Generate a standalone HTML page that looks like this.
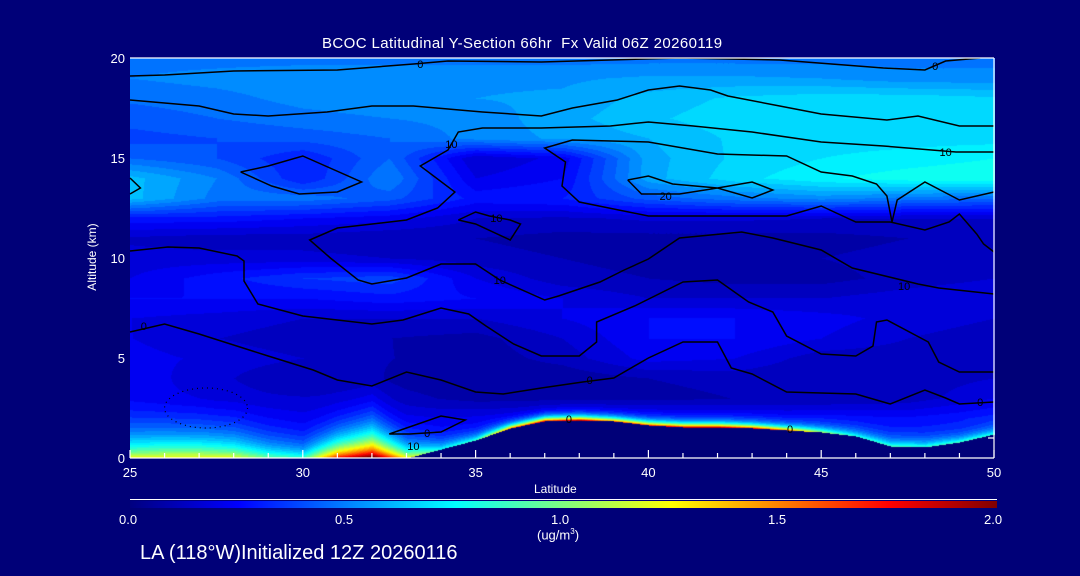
<!DOCTYPE html>
<html><head><meta charset="utf-8">
<style>
html,body{margin:0;padding:0;background:#000078;}
#wrap{position:relative;width:1080px;height:576px;background:#000078;overflow:hidden;font-family:"Liberation Sans",sans-serif;color:#fff;}
.t{position:absolute;white-space:nowrap;color:#fff;}
</style></head>
<body>
<div id="wrap">
<div class="t" style="left:322px;top:35px;font-size:15px;letter-spacing:0.4px;">BCOC Latitudinal Y-Section 66hr&nbsp; Fx Valid 06Z 20260119</div>
<canvas id="field" width="865" height="400" style="position:absolute;left:130px;top:58px;"></canvas>
<svg id="ov" width="1080" height="576" style="position:absolute;left:0;top:0;"></svg>
<div class="t" style="left:52px;top:250px;font-size:12px;transform:rotate(-90deg);transform-origin:center;width:80px;text-align:center;">Altitude (km)</div>
<div class="t" style="left:534px;top:482px;font-size:12px;">Latitude</div>
<div style="position:absolute;left:130px;top:499px;width:867px;height:1px;background:#fff;"></div>
<div style="position:absolute;left:130px;top:501px;width:867px;height:7px;background:linear-gradient(to right,#000080 0%,#0000ff 12.5%,#00ffff 37.5%,#ffff00 62.5%,#ff0000 87.5%,#800000 100%);"></div>
<div class="t" style="left:119px;top:512px;font-size:13px;">0.0</div>
<div class="t" style="left:335px;top:512px;font-size:13px;">0.5</div>
<div class="t" style="left:551px;top:512px;font-size:13px;">1.0</div>
<div class="t" style="left:768px;top:512px;font-size:13px;">1.5</div>
<div class="t" style="left:984px;top:512px;font-size:13px;">2.0</div>
<div class="t" style="left:537px;top:527px;font-size:13px;">(ug/m<sup style="font-size:8px;">3</sup>)</div>
<div class="t" style="left:140px;top:542px;font-size:20px;">LA (118°W)Initialized 12Z 20260116</div>
</div>
<script>
// ---- data ----
const lats = [25,27.5,30,32.5,35,37.5,40,42.5,45,47.5,50];
const alts = [0,1,2,3,4,5,6,7,8,9,10,11,12,13,14,15,16,17,18,19,20];
const bg = [
 [0.30,0.30,0.28,0.28,0.28,0.28,0.30,0.30,0.30,0.30,0.32],
 [0.30,0.28,0.25,0.25,0.25,0.28,0.28,0.28,0.28,0.28,0.30],
 [0.25,0.22,0.20,0.18,0.20,0.22,0.25,0.25,0.25,0.25,0.30],
 [0.20,0.15,0.15,0.12,0.08,0.08,0.08,0.10,0.10,0.12,0.20],
 [0.22,0.15,0.10,0.08,0.06,0.06,0.10,0.12,0.10,0.12,0.15],
 [0.22,0.18,0.15,0.10,0.07,0.12,0.22,0.20,0.12,0.12,0.12],
 [0.20,0.15,0.12,0.10,0.08,0.15,0.25,0.25,0.20,0.15,0.12],
 [0.20,0.18,0.15,0.15,0.15,0.20,0.25,0.25,0.22,0.18,0.15],
 [0.25,0.25,0.25,0.28,0.25,0.20,0.15,0.15,0.15,0.18,0.20],
 [0.20,0.28,0.35,0.38,0.20,0.12,0.10,0.08,0.08,0.12,0.15],
 [0.17,0.17,0.17,0.15,0.12,0.10,0.08,0.08,0.10,0.12,0.12],
 [0.14,0.12,0.12,0.10,0.10,0.08,0.08,0.08,0.08,0.10,0.12],
 [0.28,0.28,0.25,0.22,0.15,0.14,0.16,0.16,0.15,0.15,0.15],
 [0.62,0.48,0.48,0.42,0.28,0.30,0.42,0.48,0.52,0.48,0.45],
 [0.62,0.50,0.30,0.50,0.20,0.25,0.58,0.68,0.74,0.78,0.80],
 [0.45,0.40,0.30,0.45,0.15,0.22,0.58,0.66,0.70,0.72,0.75],
 [0.38,0.40,0.42,0.45,0.52,0.56,0.60,0.66,0.68,0.68,0.68],
 [0.42,0.45,0.48,0.50,0.52,0.58,0.64,0.68,0.70,0.70,0.70],
 [0.46,0.48,0.52,0.54,0.55,0.56,0.62,0.66,0.68,0.68,0.66],
 [0.50,0.52,0.54,0.54,0.54,0.54,0.56,0.56,0.55,0.52,0.52],
 [0.48,0.48,0.48,0.48,0.48,0.48,0.48,0.48,0.48,0.48,0.48]
];
const surfLats = [25,26,27,28,29,30,31,32,33,34,35,36,37,38,39,40,41,42,43,44,45,46,47,48,49,50];
const terrain = [0,0,0,0,0,0,0,0,0,0.45,0.9,1.5,1.85,1.9,1.85,1.65,1.55,1.55,1.5,1.4,1.3,1.1,0.6,0.55,0.8,1.2];
const surfConc = [1.25,1.3,1.3,1.25,1.0,0.9,1.8,2.2,1.3,0.8,0.9,1.6,1.9,1.9,1.6,1.7,1.9,1.9,1.8,1.6,1.1,0.85,0.9,0.9,0.9,0.85];
const layerDepth = [0.9,0.9,0.9,0.85,0.7,0.6,0.8,1.0,0.6,0.4,0.3,0.2,0.2,0.2,0.2,0.2,0.2,0.2,0.2,0.2,0.25,0.3,0.35,0.35,0.3,0.3];

const contourA = [[25,19.1],[26,19.15],[28,19.35],[31,19.4],[33.2,19.7],[34.2,19.85],[36.9,19.8],[40.9,20],[43.8,19.9],[46.8,19.5],[48,19.4],[48.6,19.85],[49.6,20]];
const contourB = [[25,17.9],[27,17.6],[28,17.2],[29,17.1],[30.7,17.3],[32,17.6],[33.2,17.6],[35.2,17.3],[36.9,17.1],[37.8,17.5],[39.1,17.9],[40,18.4],[40.9,18.6],[41.8,18.4],[42.3,18.1],[43.8,17.6],[45,17.2],[46.9,16.9],[47.8,17.1],[49,16.6],[50,16.6]];
const contourC = [[50,15.3],[49.5,15.3],[48.9,15.3],[46.8,15.6],[45,15.8],[43,16.3],[41.3,16.6],[40,16.8],[38.9,16.6],[36.9,16.5],[35.2,16.5],[34.5,16.3],[34.2,15.4],[33.4,14.6],[34.4,13.3],[33.9,12.5],[33,11.9],[31,11.5],[30.2,10.9],[30.8,10],[31.6,8.9],[32,8.7],[33,9],[34,9.7],[35,9.7],[35.7,8.9],[37,7.9],[37.4,8.1],[38.6,8.8],[39.3,9.4],[40,9.95],[40.9,11],[42.7,11.3],[43.6,11],[45,10.4],[45.9,9.5],[47.8,8.7],[48.4,8.5],[50,8.2]];
const contourD = [[25,10.35],[26.1,10.55],[27,10.5],[28.1,10.1],[28.3,9.85],[28.3,8.85],[28.7,7.7],[30,7.1],[32,6.7],[32.9,6.9],[34,7.5],[34.8,7.2],[35.3,6.6],[36.1,5.7],[36.9,5.1],[38,5.1],[38.5,5.8],[38.5,6.8],[39.6,7.6],[41,8.8],[42,8.9],[42.9,7.8],[43.6,7.3],[44,6.1],[45,5.2],[46,5.1],[46.5,5.6],[46.6,6.8],[46.9,6.9],[48.1,5.8],[48.4,4.8],[49,4.3],[50,4.3]];
const contourE = [[25,6.3],[26,6.7],[27,6.2],[29,5.1],[30.3,4.4],[31,3.9],[32,3.6],[33,4.3],[34,3.9],[35,3.3],[35.8,3.2],[36.9,3.5],[38.1,3.8],[39,4],[40,5],[41,5.8],[42,5.8],[42.4,4.5],[43,4.2],[44,3.3],[46,3.2],[47,2.7],[48,3.4],[48.6,3],[49,2.7],[50,2.8]];
const contourF1 = [[50,13.3],[49,12.9],[48,13.8],[47.2,12.9],[47.05,11.8],[46.9,13.1],[46.6,13.7],[45.9,14.1],[45,14.3],[44,15.1],[42,15.2],[40,15.8],[37.8,15.9],[37,15.5],[37.6,14.8],[37.5,13.6],[38,12.8],[40,12.1],[44,12.1],[45,12.6],[46,11.8],[47,11.8],[48,11.4],[48.7,11.8],[49,12.2],[49.5,11.2],[49.7,10.7],[50,10.3]];
const loopG = [[39.4,13.9],[40,14.1],[40.7,13.7],[42,13.5],[43,13.8],[43.6,13.4],[43,13],[42,13.5],[40.9,13.2],[39.8,13.2],[39.4,13.9]];
const loopH = [[28.2,14.3],[29,14.6],[30,15.1],[31.7,13.8],[31,13.3],[29.9,13.2],[29.1,13.6],[28.2,14.3]];
const edgeI = [[25,14],[25.3,13.5],[25,13.2]];
const loopJ = [[34.5,11.9],[35,12.3],[35.4,12.1],[36,11.9],[36.3,11.7],[36,10.9],[35,11.7],[34.5,11.9]];
const loopK = [[32.5,1.2],[34,2.1],[34.7,1.9],[34,1.3],[33.1,1.2],[32.5,1.2]];
const dotEllipse = [27.2,2.5,1.2,1.0];
const contourLabels = [["0",33.4,19.7],["0",48.3,19.6],["10",34.3,15.7],["10",48.6,15.3],["20",40.5,13.1],["10",35.6,12.0],["10",35.7,8.9],["10",47.4,8.6],["0",25.4,6.6],["0",38.3,3.9],["0",49.6,2.8],["0",33.6,1.25],["0",37.7,1.95],["0",44.1,1.45],["10",33.2,0.6]];
const xTicks = [25,30,35,40,45,50];
const yTicks = [0,5,10,15,20];

// ---- axes ----
const X0=130,X1=994,Y0=458,Y1=58;
const xs = lat => X0 + (lat-25)/(50-25)*(X1-X0);
const ys = alt => Y0 - alt/20*(Y0-Y1);
const lat_of = px => 25 + (px)/(X1-X0)*25;
const alt_of = py => (Y0-Y1-py)/(Y0-Y1)*20;

function jet(v){
  let t=Math.max(0,Math.min(1,v/2));
  const c=a=>Math.max(0,Math.min(1,1.5-Math.abs(a)));
  return [c(4*t-3)*255,c(4*t-2)*255,c(4*t-1)*255];
}
function interp1(arrX,arrY,x){
  if(x<=arrX[0])return arrY[0];
  for(let i=0;i<arrX.length-1;i++){ if(x<=arrX[i+1]){const f=(x-arrX[i])/(arrX[i+1]-arrX[i]);return arrY[i]+f*(arrY[i+1]-arrY[i]);} }
  return arrY[arrY.length-1];
}
function bgAt(lat,alt){
  let fi=(lat-25)/2.5, fj=alt;
  fi=Math.max(0,Math.min(lats.length-1.0001,fi)); fj=Math.max(0,Math.min(alts.length-1.0001,fj));
  const i=Math.floor(fi), j=Math.floor(fj), a=fi-i, b=fj-j;
  return bg[j][i]*(1-a)*(1-b)+bg[j][i+1]*a*(1-b)+bg[j+1][i]*(1-a)*b+bg[j+1][i+1]*a*b;
}
// ---- field ----
const cv=document.getElementById('field'), ctx=cv.getContext('2d');
const W=cv.width,H=cv.height, img=ctx.createImageData(W,H);
for(let px=0;px<W;px++){
  const lat=lat_of(px);
  const ter=interp1(surfLats,terrain,lat), sc=interp1(surfLats,surfConc,lat), dp=interp1(surfLats,layerDepth,lat);
  for(let py=0;py<H;py++){
    const alt=alt_of(py); let col;
    if(alt<ter){col=[0,0,120];}
    else{
      const b=bgAt(lat,alt), h=alt-ter;
      let v=b+(sc-b)*Math.exp(-h/dp);
      v=Math.floor(v/0.05)*0.05+0.025;
      col=jet(v);
    }
    const k=(py*W+px)*4; img.data[k]=col[0];img.data[k+1]=col[1];img.data[k+2]=col[2];img.data[k+3]=255;
  }
}
ctx.putImageData(img,0,0);

// ---- overlay ----
const svg=document.getElementById('ov'), NS='http://www.w3.org/2000/svg';
function line(pts,name,dash){
  const p=document.createElementNS(NS,'polyline');
  p.setAttribute('points',pts.map(q=>xs(q[0]).toFixed(1)+','+ys(q[1]).toFixed(1)).join(' '));
  p.setAttribute('fill','none');p.setAttribute('stroke','#000');p.setAttribute('stroke-width','1.5');
  if(dash)p.setAttribute('stroke-dasharray',dash);
  
  
  svg.appendChild(p);
}
line(contourA,'contour-line-a');line(contourB,'contour-line-b');line(contourC,'contour-line-c');
line(contourD,'contour-line-d');line(contourE,'contour-line-e');line(contourF1,'contour-line-f');
line(loopG,'contour-loop-g');line(loopH,'contour-loop-h');line(edgeI,'contour-edge-i');
line(loopJ,'contour-loop-j');line(loopK,'contour-loop-k');
{
  const e=document.createElementNS(NS,'ellipse');
  e.setAttribute('cx',xs(dotEllipse[0]));e.setAttribute('cy',ys(dotEllipse[1]));
  e.setAttribute('rx',xs(25+dotEllipse[2])-xs(25));e.setAttribute('ry',ys(0)-ys(dotEllipse[3]));
  e.setAttribute('fill','none');e.setAttribute('stroke','#000');e.setAttribute('stroke-width','1.2');e.setAttribute('stroke-dasharray','1 4');
  
  
  svg.appendChild(e);
}
contourLabels.forEach(l=>{
  const t=document.createElementNS(NS,'text');
  t.setAttribute('x',xs(l[1]));t.setAttribute('y',ys(l[2])+4);t.setAttribute('text-anchor','middle');
  t.setAttribute('font-size','11');t.setAttribute('font-family','Liberation Sans, sans-serif');t.setAttribute('fill','#000');
  t.textContent=l[0];
  
  
  svg.appendChild(t);
});
// frame
function seg(x1,y1,x2,y2,name){
  const l=document.createElementNS(NS,'line');
  l.setAttribute('x1',x1);l.setAttribute('y1',y1);l.setAttribute('x2',x2);l.setAttribute('y2',y2);
  l.setAttribute('stroke','#fff');l.setAttribute('stroke-width','1.2');
  
  
  svg.appendChild(l);
}
seg(X0,Y1,X1,Y1,'plot-top-border');seg(X1,Y1,X1,Y0,'plot-right-border');seg(X0,Y0,X1,Y0,'x-axis-line');
for(let lat=25;lat<=50;lat++){
  const major=xTicks.includes(lat);
  seg(xs(lat),Y0,xs(lat),Y0-(major?8:5),'x-tick');
}
seg(X1,ys(1),X1-6,ys(1),'y-right-tick');
xTicks.forEach(v=>{
  const t=document.createElementNS(NS,'text');
  t.setAttribute('x',xs(v));t.setAttribute('y',477);t.setAttribute('text-anchor','middle');
  t.setAttribute('font-size','13');t.setAttribute('font-family','Liberation Sans, sans-serif');t.setAttribute('fill','#fff');
  t.textContent=v;
  
  
  svg.appendChild(t);
});
yTicks.forEach(v=>{
  const t=document.createElementNS(NS,'text');
  t.setAttribute('x',125);t.setAttribute('y',ys(v)+5);t.setAttribute('text-anchor','end');
  t.setAttribute('font-size','13');t.setAttribute('font-family','Liberation Sans, sans-serif');t.setAttribute('fill','#fff');
  t.textContent=v;
  
  
  svg.appendChild(t);
});
</script>
</body></html>
